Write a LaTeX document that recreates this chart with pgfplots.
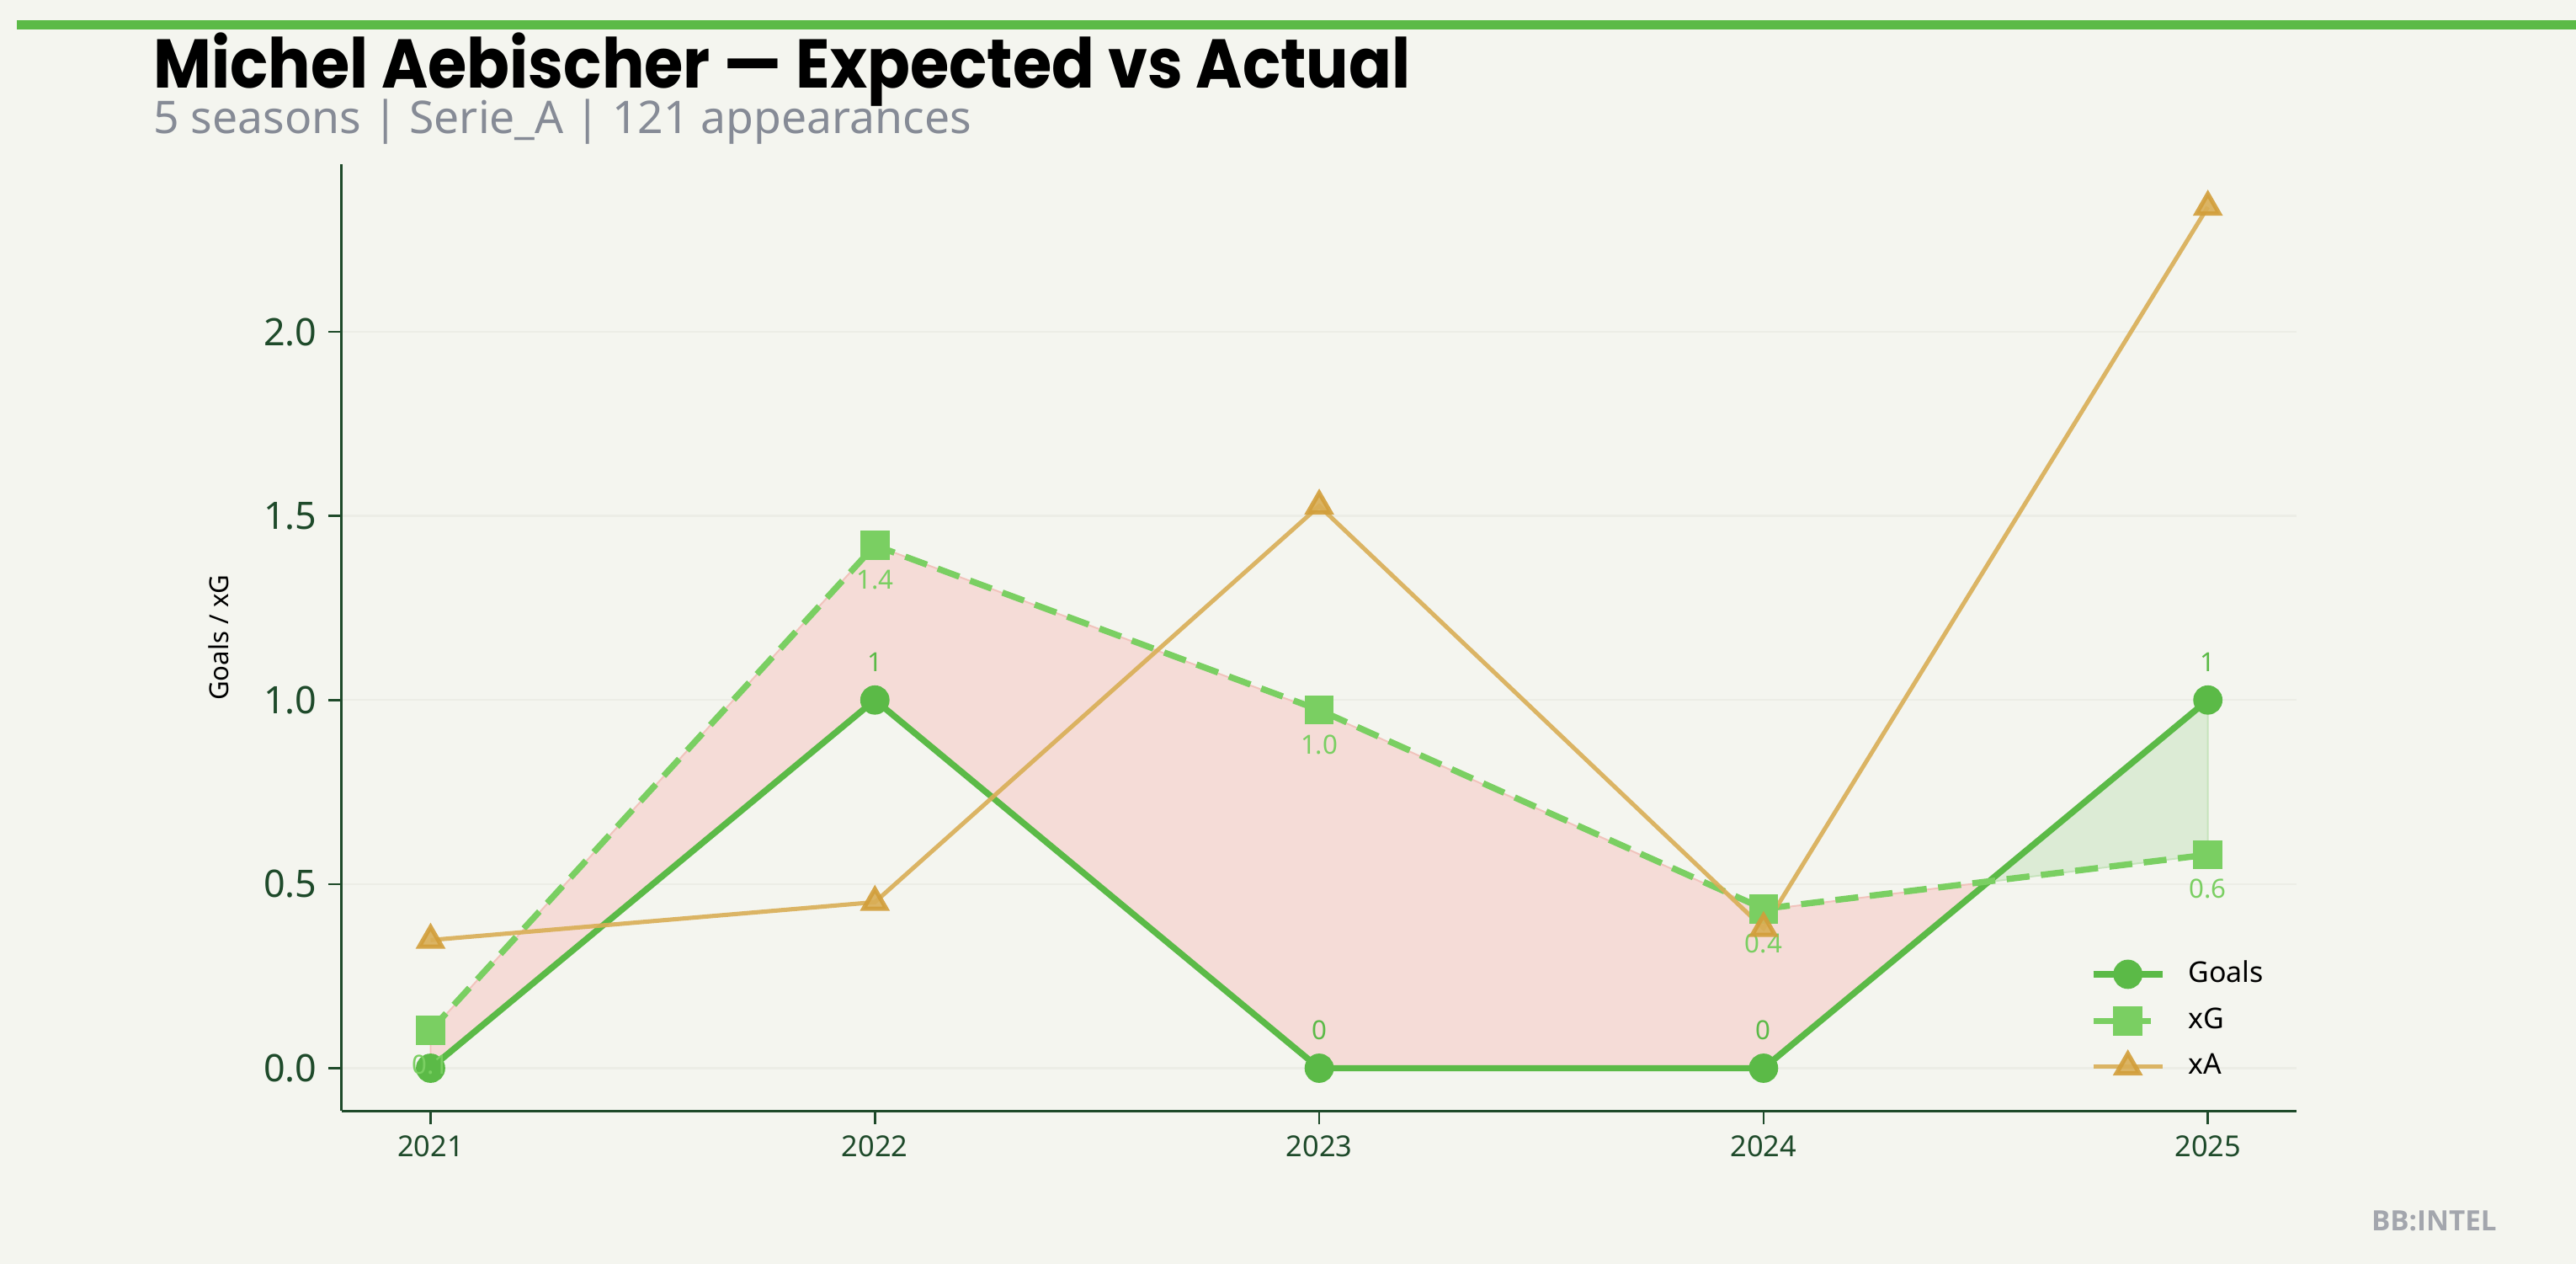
\documentclass[border=0pt]{standalone}
\usepackage{fontspec}
\usepackage{pgfplots}
\pgfplotsset{compat=1.18}
\setmainfont{Noto Sans}
\newfontfamily\titlefont{Poppins}[FakeStretch=0.915]
\newfontfamily\wmfont{Open Sans}
\definecolor{bg}{HTML}{F4F5EF}
\definecolor{goalc}{HTML}{5BBA47}
\definecolor{xgc}{HTML}{7ACF62}
\definecolor{xac}{HTML}{D9AE55}
\definecolor{xae}{HTML}{D29E3A}
\definecolor{axc}{HTML}{1E4A2A}
\definecolor{redfill}{HTML}{F5DCD7}
\definecolor{rededge}{HTML}{F1C3BC}
\definecolor{greenfill}{HTML}{DCEBD5}
\definecolor{greenedge}{HTML}{C6E3BC}
\definecolor{subc}{HTML}{868B96}
\definecolor{wm}{HTML}{A3A6AD}
\definecolor{gridc}{HTML}{ECEDE6}
\begin{document}
\begin{tikzpicture}[x=1pt,y=1pt]
\fill[bg] (0,0) rectangle (784,384.5);
\path[use as bounding box] (0,0) rectangle (784,384.5);
\fill[goalc] (5,375.4) rectangle (784,378.4);
\node[anchor=base west, inner sep=0pt] at (46.5,357.8) {\titlefont\bfseries\fontsize{21}{21}\selectfont Michel Aebischer — Expected vs Actual};
\node[anchor=base west, inner sep=0pt, text=subc] at (46.5,344.0) {\fontsize{13.7}{13.7}\selectfont 5 seasons | Serie\_A | 121 appearances};
\node[anchor=base east, inner sep=0pt, text=wm] at (760,10) {\wmfont\bfseries\fontsize{8.5}{8.5}\selectfont BB:INTEL};
\begin{axis}[
  at={(104pt,46.5pt)}, anchor=south west,
  scale only axis, width=595pt, height=288pt,
  xmin=2020.8, xmax=2025.2, ymin=-0.116, ymax=2.455,
  axis x line*=bottom, axis y line*=left,
  axis line style={axc, line width=0.8pt, -},
  xtick={2021,2022,2023,2024,2025},
  xticklabels={2021,2022,2023,2024,2025},
  ytick={0,0.5,1,1.5,2},
  yticklabel={\pgfmathprintnumber[fixed,precision=1,zerofill]{\tick}},
  /pgf/number format/assume math mode=true,
  tick style={axc, line width=0.7pt},
  tick align=outside, major tick length=4pt,
  ymajorgrids, grid style={gridc, line width=0.6pt},
  y tick label style={font=\fontsize{11.5}{11.5}\selectfont, text=axc},
  x tick label style={font=\fontsize{8.8}{8.8}\selectfont, text=axc},
  ylabel={Goals / xG},
  ylabel style={font=\fontsize{8}{8}\selectfont, at={(axis description cs:-0.063,0.5)}, anchor=center},
  legend image code/.code={\draw[mark repeat=2,mark phase=2] plot coordinates {(0pt,0pt)(10.5pt,0pt)(21pt,0pt)};},
  legend style={at={(0.889,0.173)}, anchor=north west, draw=none, fill=none,
     font=\fontsize{8.7}{8.7}\selectfont, row sep=2.2pt, column sep=3.5pt,
     nodes={inner xsep=3.5pt}},
  legend cell align=left,
]
\addplot[fill=redfill, draw=rededge, line width=0.5pt, forget plot] coordinates {
 (2021,0.1) (2022,1.42) (2023,0.97) (2024,0.43) (2024.506,0.506) (2024,0) (2023,0) (2022,1) (2021,0)} -- cycle;
\addplot[fill=greenfill, draw=greenedge, line width=0.5pt, forget plot] coordinates {
 (2024.506,0.506) (2025,1) (2025,0.58)} -- cycle;
\addplot[goalc, line width=1.9pt, mark=*, mark size=3.5pt, mark options={fill=goalc, draw=goalc},
  nodes near coords={\pgfmathprintnumber[fixed,precision=0]{\pgfplotspointmeta}},
  every node near coord/.style={font=\fontsize{8}{8}\selectfont, text=goalc, anchor=center, yshift=11.5pt}]
  coordinates {(2021,0) (2022,1) (2023,0) (2024,0) (2025,1)};
\addlegendentry{Goals}
\addplot[xgc, line width=1.9pt, dash pattern=on 7pt off 3.5pt, mark=square*, mark size=3.5pt, mark options={solid, fill=xgc, draw=xgc},
  nodes near coords={\pgfmathprintnumber[fixed,precision=1,zerofill]{\pgfplotspointmeta}},
  every node near coord/.style={font=\fontsize{8}{8}\selectfont, text=xgc, anchor=center, yshift=-10.5pt}]
  coordinates {(2021,0.103) (2022,1.42) (2023,0.973) (2024,0.433) (2025,0.58)};
\addlegendentry{xG}
\addplot[xac, line width=1.3pt, opacity=0.9, mark=triangle*, mark size=4pt, mark options={fill=xac, draw=xae}]
  coordinates {(2021,0.348) (2022,0.451) (2023,1.527) (2024,0.38) (2025,2.339)};
\addlegendentry{xA}
\end{axis}
\end{tikzpicture}
\end{document}
